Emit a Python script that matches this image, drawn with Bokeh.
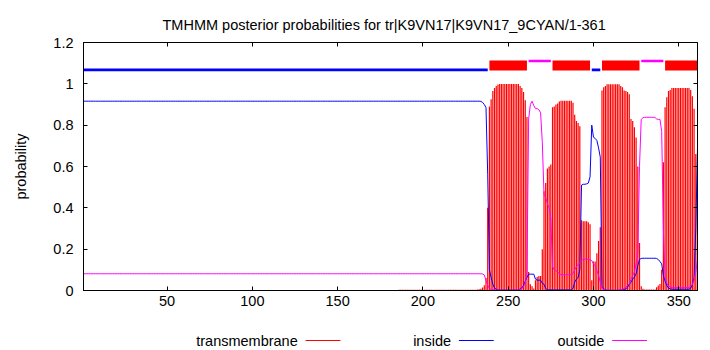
from bokeh.plotting import figure
from bokeh.layouts import column
from bokeh.models import FixedTicker, LinearAxis, Range1d, ColumnDataSource
from bokeh.embed import file_html
from bokeh.resources import INLINE
from bokeh.core.properties import value

# ---------------- data ----------------
title_text = "TMHMM posterior probabilities for tr|K9VN17|K9VN17_9CYAN/1-361"
y_label = "probability"
n_res = 361

# residues 1..229 are flat
head_inside = [0.916] * 229
head_outside = [0.081] * 229
head_tm = [0.001] * 185 + [0.004] * 44

# residues 230..361
tm_tail = [0.004, 0.004, 0.005, 0.006, 0.008, 0.015, 0.025, 0.060, 0.400, 0.890,
           0.925, 0.965, 0.980, 0.990, 0.997,
           0.999, 0.999, 0.999, 0.999, 0.999, 0.999, 0.999, 0.999, 0.999, 0.999, 0.999, 0.999,
           0.990, 0.980, 0.960, 0.920, 0.840, 0.090, 0.030, 0.020, 0.010, 0.050,
           0.065, 0.070, 0.070, 0.200, 0.480, 0.520, 0.590, 0.600, 0.610, 0.887,
           0.890, 0.900, 0.905, 0.915,
           0.918, 0.918, 0.918, 0.918, 0.918, 0.918, 0.918,
           0.908, 0.850, 0.820, 0.810, 0.795, 0.340, 0.335, 0.335, 0.335, 0.330,
           0.320, 0.050, 0.140, 0.140, 0.180, 0.240, 0.306, 0.968, 0.984, 0.990,
           0.998, 0.998, 0.998, 0.998, 0.998, 0.998, 0.998, 0.998,
           0.990, 0.984, 0.968, 0.965, 0.960, 0.950, 0.830, 0.820, 0.790, 0.740,
           0.600, 0.230, 0.020, 0.008,
           0.005, 0.005, 0.005, 0.005, 0.005, 0.005, 0.005,
           0.016, 0.024, 0.032, 0.100, 0.620, 0.887, 0.935, 0.965, 0.970,
           0.980, 0.980, 0.980, 0.980, 0.980, 0.980, 0.980, 0.980, 0.980, 0.980, 0.980,
           0.970, 0.940, 0.880, 0.660, 0.200]

inside_tail = [0.916, 0.916, 0.916, 0.916, 0.915, 0.910, 0.900, 0.885, 0.560, 0.100,
               0.063, 0.030, 0.012, 0.006, 0.003,
               0.002, 0.002, 0.002, 0.002, 0.002, 0.002, 0.002, 0.002, 0.002, 0.002, 0.002, 0.002,
               0.008, 0.012, 0.025, 0.045, 0.063, 0.079, 0.079, 0.079, 0.079, 0.055,
               0.050, 0.050, 0.050, 0.035, 0.030, 0.010, 0.003, 0.003, 0.003, 0.003,
               0.003, 0.003, 0.003, 0.003,
               0.003, 0.003, 0.003, 0.003, 0.003, 0.003, 0.003,
               0.010, 0.040, 0.055, 0.063, 0.100, 0.510, 0.514, 0.514, 0.516, 0.520,
               0.550, 0.800, 0.742, 0.736, 0.726, 0.690, 0.645, 0.020, 0.008, 0.004,
               0.001, 0.001, 0.001, 0.001, 0.001, 0.001, 0.001, 0.001,
               0.003, 0.004, 0.005, 0.008, 0.016, 0.030, 0.040, 0.055, 0.065, 0.080,
               0.120, 0.150, 0.155, 0.156,
               0.156, 0.156, 0.156, 0.156, 0.156, 0.156, 0.156,
               0.155, 0.150, 0.140, 0.129, 0.073, 0.045, 0.024, 0.012, 0.008,
               0.006, 0.006, 0.006, 0.006, 0.006, 0.006, 0.006, 0.006, 0.006, 0.006, 0.006,
               0.010, 0.030, 0.060, 0.300, 0.690]

outside_tail = [0.081, 0.081, 0.081, 0.081, 0.081, 0.080, 0.075, 0.050, 0.025, 0.010,
                0.006, 0.004, 0.003, 0.002, 0.001,
                0.001, 0.001, 0.001, 0.001, 0.001, 0.001, 0.001, 0.001, 0.001, 0.001, 0.001, 0.001,
                0.004, 0.010, 0.018, 0.035, 0.085, 0.830, 0.900, 0.916, 0.895, 0.880,
                0.880, 0.875, 0.860, 0.720, 0.465, 0.450, 0.420, 0.400, 0.350, 0.115,
                0.100, 0.095, 0.090, 0.080,
                0.076, 0.076, 0.076, 0.076, 0.076, 0.076, 0.076,
                0.082, 0.100, 0.115, 0.125, 0.135, 0.145, 0.150, 0.152, 0.153, 0.150,
                0.148, 0.145, 0.129, 0.120, 0.097, 0.073, 0.040, 0.011, 0.005, 0.003,
                0.001, 0.001, 0.001, 0.001, 0.001, 0.001, 0.001, 0.001,
                0.003, 0.005, 0.010, 0.016, 0.024, 0.032, 0.055, 0.073, 0.089, 0.129,
                0.180, 0.600, 0.828, 0.836,
                0.838, 0.838, 0.838, 0.838, 0.838, 0.838, 0.838,
                0.830, 0.828, 0.828, 0.770, 0.300, 0.060, 0.035, 0.020, 0.016,
                0.014, 0.014, 0.014, 0.014, 0.014, 0.014, 0.014, 0.014, 0.014, 0.014, 0.014,
                0.020, 0.030, 0.050, 0.090, 0.150]

# predicted topology (start, end residues)
inside_segments = [(1, 238), (299, 304)]
outside_segments = [(262, 275), (328, 341)]
tm_segments = [(239, 261), (276, 298), (305, 327), (342, 361)]

x_ticks = [50, 100, 150, 200, 250, 300, 350]
y_ticks = [0, 0.2, 0.4, 0.6, 0.8, 1, 1.2]
y_tick_labels = ["0", "0.2", "0.4", "0.6", "0.8", "1", "1.2"]
legend_names = ["transmembrane", "inside", "outside"]

# ---------------- build ----------------
residues = list(range(1, n_res + 1))
tm = head_tm + tm_tail
inside = head_inside + inside_tail
outside = head_outside + outside_tail

RED, BLUE, MAGENTA = "#ff0000", "#0000ff", "#ff00ff"
FONT = "Liberation Sans"
FS = "14.5px"
W = 705

src = ColumnDataSource(dict(r=residues, tm=tm, inside=inside, outside=outside,
                            zero=[0] * n_res))

p = figure(frame_width=614, frame_height=248,
           min_border_left=83, min_border_right=W - 83 - 614, min_border_top=42,
           min_border_bottom=28,
           x_range=Range1d(1, n_res), y_range=Range1d(0, 1.2),
           output_backend="svg", toolbar_location=None,
           background_fill_color="white", border_fill_color="white")
p.grid.visible = False
p.outline_line_color = "black"
p.outline_line_alpha = 1
p.outline_line_width = 1

p.title.text = title_text
p.title.align = "left"
p.title.offset = 79
p.title.text_font = FONT
p.title.text_font_size = FS
p.title.text_font_style = "normal"
p.title.text_color = "black"
p.title.standoff = 20

for ax in (p.xaxis[0], p.yaxis[0]):
    ax.major_tick_in = 4
    ax.major_tick_out = 0
    ax.minor_tick_line_color = None
    ax.axis_line_color = "black"
    ax.major_tick_line_color = "black"
    ax.major_label_text_font = FONT
    ax.major_label_text_font_size = FS
    ax.major_label_text_color = "black"

p.xaxis[0].ticker = FixedTicker(ticks=x_ticks)
p.xaxis[0].major_label_standoff = 5
p.yaxis[0].ticker = FixedTicker(ticks=y_ticks)
p.yaxis[0].major_label_overrides = {t: s for t, s in zip(y_ticks, y_tick_labels)}
p.yaxis[0].major_label_standoff = 10
p.yaxis[0].axis_label = y_label
p.yaxis[0].axis_label_text_font = FONT
p.yaxis[0].axis_label_text_font_size = FS
p.yaxis[0].axis_label_text_font_style = "normal"
p.yaxis[0].axis_label_text_color = "black"
p.yaxis[0].axis_label_standoff = 21

# mirrored ticks on top and right
top_ax = LinearAxis(ticker=FixedTicker(ticks=x_ticks), major_tick_in=4, major_tick_out=0,
                    minor_tick_line_color=None, major_label_overrides={t: "" for t in x_ticks},
                    major_label_standoff=0, major_label_text_font_size="1px")
right_ax = LinearAxis(ticker=FixedTicker(ticks=y_ticks), major_tick_in=4, major_tick_out=0,
                      minor_tick_line_color=None, major_label_overrides={t: "" for t in y_ticks},
                      major_label_standoff=0, major_label_text_font_size="1px")
p.add_layout(top_ax, "above")
p.add_layout(right_ax, "right")

# posterior probabilities
p.segment(x0="r", y0="zero", x1="r", y1="tm", source=src, line_color=RED, line_width=1.2)
p.line("r", "inside", source=src, line_color=BLUE, line_width=1)
p.line("r", "outside", source=src, line_color=MAGENTA, line_width=1)

# predicted topology bar on top
p.quad(left=[s for s, e in tm_segments], right=[e for s, e in tm_segments],
       bottom=1.064, top=1.113, fill_color=RED, line_color=None)
p.quad(left=[s for s, e in inside_segments], right=[e for s, e in inside_segments],
       bottom=1.061, top=1.074, fill_color=BLUE, line_color=None)
p.quad(left=[s for s, e in outside_segments], right=[e for s, e in outside_segments],
       bottom=1.104, top=1.117, fill_color=MAGENTA, line_color=None)

# ---------------- key below the plot (pixel-like layout coordinates) ----------------
KH = 30
k = figure(width=W, height=KH, x_range=Range1d(0, W), y_range=Range1d(0, KH),
           min_border=0, output_backend="svg", toolbar_location=None,
           x_axis_location=None, y_axis_location=None,
           background_fill_color="white", border_fill_color="white")
k.grid.visible = False
k.outline_line_color = None

key_text_right = [246, 422, 598]
key_colors = [RED, BLUE, MAGENTA]
key_y = KH - 22
k.text(x=key_text_right, y=[key_y] * 3, text=legend_names, text_align="right",
       text_baseline="middle", text_font=value(FONT), text_font_size=FS, text_color="black")
k.segment(x0=[xr + 9 for xr in key_text_right], y0=[key_y] * 3,
          x1=[xr + 49 for xr in key_text_right], y1=[key_y] * 3,
          line_color=key_colors, line_width=1)

open("out.html", "w").write(file_html(column(p, k), INLINE))
